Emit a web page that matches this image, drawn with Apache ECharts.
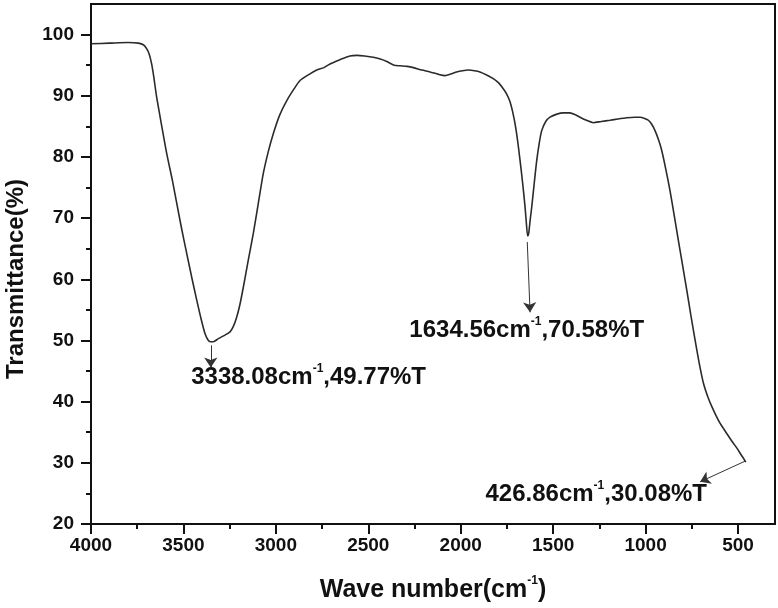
<!DOCTYPE html>
<html><head><meta charset="utf-8">
<script src="https://cdn.jsdelivr.net/npm/echarts@6/dist/echarts.min.js"></script>
<style>html,body{margin:0;padding:0;background:#fff}#c{width:778px;height:608px}</style>
</head><body><div id="c"></div>
<script>
// Spectrum: wavenumber (cm-1) and transmittance (%)
const wavenumbers = [4000,3900,3800,3744,3715,3699,3685,3672,3660,3645,3620,3590,3560,3536,3510,3482,3455,3428,3405,3383,3365,3352,3338,3311,3280,3248,3230,3212,3195,3176,3150,3122,3095,3068,3040,3014,2980,2941,2900,2869,2820,2779,2740,2707,2653,2600,2560,2520,2473,2435,2400,2360,2328,2290,2256,2210,2166,2120,2085,2050,2022,1990,1959,1925,1896,1860,1824,1795,1769,1750,1733,1720,1706,1692,1679,1665,1652,1645,1638,1632,1624,1616,1602,1589,1575,1562,1540,1517,1480,1445,1409,1380,1355,1320,1283,1240,1192,1150,1102,1060,1030,1005,985,966,949,930,913,890,868,845,823,800,777,755,732,710,687,660,633,600,561,530,506,485,470,458];
const transmittance = [98.5,98.6,98.7,98.6,98.3,97.7,96.8,95.2,93.0,89.8,85.5,80.5,76.2,72.4,68.3,64.2,60.3,56.6,53.6,51.1,50.0,49.8,49.8,50.3,50.8,51.4,52.3,53.8,55.8,58.7,63.0,67.5,72.4,77.3,81.0,83.8,86.8,89.2,91.2,92.5,93.5,94.2,94.6,95.2,95.9,96.5,96.6,96.5,96.3,96.0,95.6,95.0,94.9,94.8,94.6,94.2,93.9,93.5,93.3,93.6,93.9,94.1,94.2,94.1,93.9,93.4,92.8,92.1,91.1,90.2,89.0,87.5,85.4,82.6,79.4,75.7,71.8,69.2,67.1,67.6,69.8,71.8,75.8,79.4,82.3,84.3,85.8,86.5,87.0,87.2,87.2,86.9,86.5,86.0,85.6,85.8,86.0,86.2,86.4,86.5,86.5,86.3,86.0,85.3,84.3,82.8,81.1,77.9,74.5,70.4,66.4,62.3,58.2,54.1,50.0,46.3,43.0,40.5,38.6,36.6,34.8,33.4,32.4,31.4,30.7,30.1];

// Tick values
const xMajorTicks = [500,1000,1500,2000,2500,3000,3500,4000];
const xMinorTicks = [750,1250,1750,2250,2750,3250,3750];
const yMajorTicks = [20,30,40,50,60,70,80,90,100];
const yMinorTicks = [25,35,45,55,65,75,85,95];

// Peak annotations: reported peak [wavenumber, %T]
const peakLabels = [[3338.08,49.77],[1634.56,70.58],[426.86,30.08]];
// Arrow start / end points (data coordinates) and label anchors
const arrowStarts = [[3352,49.2],[1640,66.1],[460,30.3]];
const arrowEnds   = [[3352,45.6],[1625,54.6],[705,26.9]];
const labelAnchors = [[3458,43.9],[2278,51.6],[1866,24.8]];

const FONT = '"Liberation Sans", Arial, sans-serif';
const chart = echarts.init(document.getElementById('c'), null, {renderer:'canvas'});
const supRich = {
  sup: {fontSize: 12, fontWeight:'bold', fontFamily: FONT, color:'#111', verticalAlign:'top', padding:[0,0,18,0]}
};
const seriesData = wavenumbers.map((w,i)=>[w, transmittance[i]]);
const plain = v => String(v);

chart.setOption({
  animation: false,
  backgroundColor: '#fff',
  grid: {left: 91, right: 3, top: 4, bottom: 84, containLabel: false, outerBoundsMode: 'none',
         show: true, borderColor: '#111', borderWidth: 2, backgroundColor:'#fff'},
  xAxis: [{
    type: 'value', min: 300, max: 4000, inverse: true, position: 'bottom',
    splitLine: {show:false},
    axisLine: {show:true, onZero:false, lineStyle:{color:'#111', width:2}},
    axisTick: {show:true, inside:false, length:10, customValues: xMajorTicks, lineStyle:{color:'#111', width:2}},
    axisLabel: {customValues: xMajorTicks, formatter: plain, margin: 12, color:'#111', fontSize: 19, fontWeight:'bold', fontFamily: FONT},
    name: 'Wave number(cm{sup|-1})', nameLocation: 'middle', nameGap: 51,
    nameTextStyle: {fontSize: 25, fontWeight:'bold', fontFamily: FONT, color:'#111', rich: supRich}
  },{
    type: 'value', min: 300, max: 4000, inverse: true, position: 'bottom',
    splitLine: {show:false},
    axisLine: {show:false, onZero:false},
    axisTick: {show:true, inside:false, length:5, customValues: xMinorTicks, lineStyle:{color:'#111', width:2}},
    axisLabel: {show:false}
  }],
  yAxis: [{
    type: 'value', min: 20, max: 105, position: 'left',
    splitLine: {show:false},
    axisLine: {show:true, onZero:false, lineStyle:{color:'#111', width:2}},
    axisTick: {show:true, inside:false, length:10, customValues: yMajorTicks, lineStyle:{color:'#111', width:2}},
    axisLabel: {customValues: yMajorTicks, formatter: plain, margin: 17, color:'#111', fontSize: 19, fontWeight:'bold', fontFamily: FONT},
    name: 'Transmittance(%)', nameLocation: 'middle', nameGap: 63, nameRotate: 90,
    nameTextStyle: {fontSize: 24, fontWeight:'bold', fontFamily: FONT, color:'#111', padding:[0,30,0,0]}
  },{
    type: 'value', min: 20, max: 105, position: 'left',
    splitLine: {show:false},
    axisLine: {show:false, onZero:false},
    axisTick: {show:true, inside:false, length:5, customValues: yMinorTicks, lineStyle:{color:'#111', width:2}},
    axisLabel: {show:false}
  }],
  series: [{
    type: 'line', xAxisIndex: 0, yAxisIndex: 0,
    data: seriesData, showSymbol: false, symbol: 'none', smooth: 0.25,
    lineStyle: {color:'#2b2b2b', width: 1.6},
    markLine: {
      silent: true, animation: false,
      symbol: ['none','arrow'], symbolSize: 10,
      lineStyle: {color:'#333', width: 1, type:'solid'},
      label: {show:false},
      data: arrowStarts.map((s,i)=>[{coord: s}, {coord: arrowEnds[i]}])
    },
    markPoint: {
      silent: true, animation: false,
      symbol: 'circle', symbolSize: 0,
      data: labelAnchors.map((a,i)=>({
        coord: a,
        label: {
          show: true, position: 'right', distance: 0,
          formatter: peakLabels[i][0].toFixed(2) + 'cm{sup|-1},' + peakLabels[i][1].toFixed(2) + '%T',
          fontSize: 24, fontWeight: 'bold', fontFamily: FONT, color:'#111',
          rich: supRich
        }
      }))
    }
  }]
});
</script>
</body></html>
